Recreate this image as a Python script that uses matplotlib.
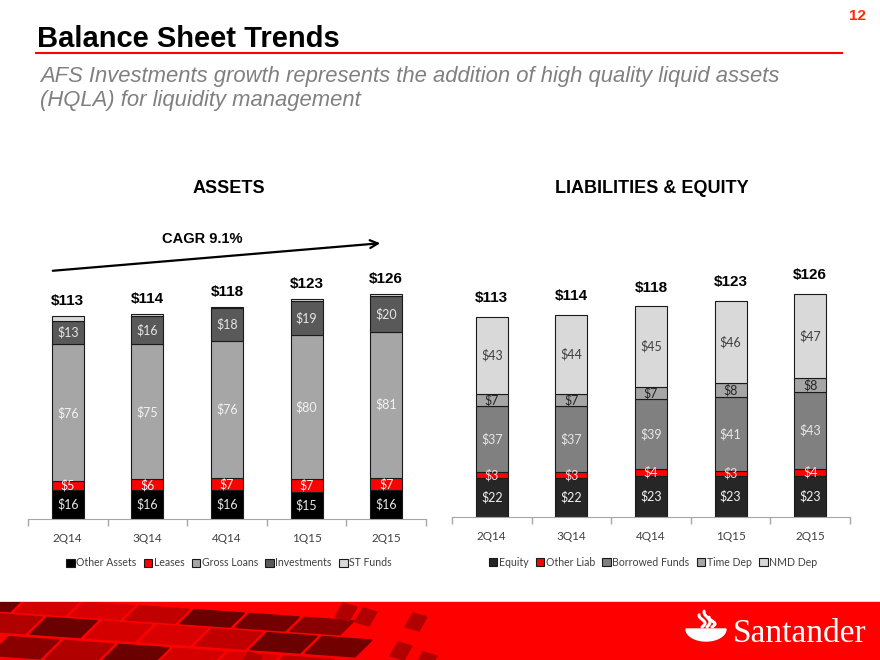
import matplotlib.pyplot as plt
import numpy as np
from matplotlib.patches import Rectangle, Polygon, FancyArrowPatch
from matplotlib.lines import Line2D

quarters = ['2Q14', '3Q14', '4Q14', '1Q15', '2Q15']

# assets ($B)
other_assets = [16, 16, 16, 15, 16]
leases = [5, 6, 7, 7, 7]
gross_loans = [76, 75, 76, 80, 81]
investments = [13, 16, 18, 19, 20]
st_funds = [3, 1, 1, 1, 1]
asset_totals = [113, 114, 118, 123, 126]
asset_names = ['Other Assets', 'Leases', 'Gross Loans', 'Investments', 'ST Funds']

# liabilities & equity ($B)
equity = [22, 22, 23, 23, 23]
other_liab = [3, 3, 4, 3, 4]
borrowed_funds = [37, 37, 39, 41, 43]
time_dep = [7, 7, 7, 8, 8]
nmd_dep = [43, 44, 45, 46, 47]
liab_totals = [113, 114, 118, 123, 126]
liab_names = ['Equity', 'Other Liab', 'Borrowed Funds', 'Time Dep', 'NMD Dep']

W, H = 880, 660
SANS = ['Liberation Sans', 'DejaVu Sans']
BODY = ['Lato', 'DejaVu Sans']


def px(x, y):
    return x / W, 1 - y / H


def draw_stack(ax, layers, names, colors, label_colors, totals, total_gap):
    x = np.arange(len(quarters))
    bottom = np.zeros(len(quarters))
    for vals, name, col, lc in zip(layers, names, colors, label_colors):
        vals = np.array(vals, dtype=float)
        ax.bar(x, vals, width=0.4, bottom=bottom, color=col, edgecolor='#1a1a1a',
               linewidth=0.8, label=name, zorder=2)
        if lc is not None:
            for xi, b, v in zip(x, bottom, vals):
                ax.text(xi, b + v / 2, '$%d' % v, ha='center', va='center',
                        color=lc, fontsize=9, family=BODY, zorder=3)
        bottom += vals
    for xi, top, t in zip(x, bottom, totals):
        ax.text(xi, top + total_gap, '$%d' % t, ha='center', va='center',
                fontsize=11, fontweight='bold', family=SANS)
    ax.set_xlim(-0.5, len(quarters) - 0.5)
    ax.set_ylim(0, 140)
    ax.set_xticks(x)
    ax.set_xticklabels(quarters, family=BODY, fontsize=8.5, color='#404040')
    ax.set_xticks(np.arange(len(quarters) + 1) - 0.5, minor=True)
    ax.tick_params(axis='x', which='major', length=0, pad=10)
    ax.tick_params(axis='x', which='minor', length=5, color='#A6A6A6', width=1)
    ax.set_yticks([])
    for s in ['left', 'top', 'right']:
        ax.spines[s].set_visible(False)
    ax.spines['bottom'].set_color('#A6A6A6')
    ax.patch.set_visible(False)


def add_legend(ax, cx, cy):
    ax.legend(loc='center', bbox_to_anchor=px(cx, cy), bbox_transform=fig.transFigure,
              ncol=5, frameon=False, handlelength=0.8, handleheight=0.8, handletextpad=0.15,
              columnspacing=0.7, prop={'family': BODY, 'size': 7.6}, labelcolor='#404040')


fig = plt.figure(figsize=(8.8, 6.6), dpi=100)
fig.patch.set_facecolor('white')

ax1 = fig.add_axes([28 / W, 141 / H, 398 / W, 252 / H])
draw_stack(ax1, [other_assets, leases, gross_loans, investments, st_funds], asset_names,
           ['#000000', '#FF0000', '#A6A6A6', '#595959', '#D9D9D9'],
           ['#E6E6E6', '#F2F2F2', '#F2F2F2', '#E6E6E6', None],
           asset_totals, 8.3)
add_legend(ax1, 229, 563)

ax2 = fig.add_axes([452 / W, 143 / H, 398 / W, 250 / H])
draw_stack(ax2, [equity, other_liab, borrowed_funds, time_dep, nmd_dep], liab_names,
           ['#262626', '#FF0000', '#808080', '#A6A6A6', '#D9D9D9'],
           ['#F2F2F2', '#F2D9D9', '#E6E6E6', '#262626', '#404040'],
           liab_totals, 10.5)
add_legend(ax2, 653, 562)

# headers
fig.text(*px(229, 188), 'ASSETS', ha='center', va='center', fontsize=13,
         fontweight='bold', family=SANS)
fig.text(*px(652, 188), 'LIABILITIES & EQUITY', ha='center', va='center', fontsize=13,
         fontweight='bold', family=SANS)
fig.text(*px(202, 239), 'CAGR 9.1%', ha='center', va='center', fontsize=10.5,
         fontweight='bold', family=SANS)
fig.add_artist(FancyArrowPatch(px(50, 271), px(383, 243), transform=fig.transFigure,
                               arrowstyle='->', mutation_scale=14, lw=1.6, color='black'))

# slide title
fig.text(*px(37, 47), 'Balance Sheet Trends', ha='left', va='baseline', fontsize=21,
         fontweight='bold', family=SANS)
fig.add_artist(Line2D([36 / W, 842 / W], [1 - 53 / H] * 2, color='#FF0000', lw=1.5))
fig.text(*px(40, 82), 'AFS Investments growth represents the addition of high quality liquid assets',
         ha='left', va='baseline', fontsize=15.8, style='italic', color='#808080', family=SANS)
fig.text(*px(40, 106), '(HQLA) for liquidity management',
         ha='left', va='baseline', fontsize=15.8, style='italic', color='#808080', family=SANS)
fig.text(*px(857, 16), '12', ha='center', va='center', fontsize=11, fontweight='bold',
         color='#FF2A00', family=SANS)

# footer band
band = Rectangle(px(0, 660), 1, 58 / H, transform=fig.transFigure, color='#FF0000', zorder=1)
fig.add_artist(band)
shades = ['#6A0000', '#C00000', '#8A0000', '#D40000', '#6A0000', '#B00000', '#D80000', '#720000']
rows = [(596, 15), (614, 18), (636, 20), (659, 22)]
k = 0
for r, (y0, h) in enumerate(rows):
    c = -40 + r * 15
    while c < 330 - r * 20:
        dx = h * 0.95
        yt = lambda xx: y0 + 0.07 * xx
        pts = [px(c, yt(c) + h), px(c + 50, yt(c + 50) + h),
               px(c + 50 + dx, yt(c + 50 + dx)), px(c + dx, yt(c + dx))]
        tile = Polygon(pts, closed=True, transform=fig.transFigure,
                       color=shades[k % len(shades)], zorder=2)
        tile.set_clip_path(band)
        fig.add_artist(tile)
        k += 3
        c += 55
for (x0, y0) in [(335, 603), (355, 608), (405, 613), (390, 642), (415, 652), (240, 652)]:
    pts = [px(x0, y0 + 14), px(x0 + 14, y0 + 18), px(x0 + 22, y0 + 4), px(x0 + 8, y0)]
    tile = Polygon(pts, closed=True, transform=fig.transFigure, color='#B00000', zorder=2)
    tile.set_clip_path(band)
    fig.add_artist(tile)

# logo
t = np.linspace(0, np.pi, 40)
bowl = [px(706 + 20 * np.cos(a), 629 + 12 * np.sin(a)) for a in t]
fig.add_artist(Polygon(bowl, closed=True, transform=fig.transFigure, color='white', zorder=3))
s = np.linspace(0, 1, 30)
for off in [-4, 1, 6]:
    xs = [(706 + off + 3 * np.sin(v * 5)) / W for v in s]
    ys = [1 - (627 - v * (17 - 1.2 * abs(off))) / H for v in s]
    fig.add_artist(Line2D(xs, ys, color='white', lw=2.2, zorder=3,
                          solid_capstyle='round'))
fig.text(*px(733, 642), 'Santander', ha='left', va='baseline', fontsize=24, color='white',
         family=['Liberation Serif', 'DejaVu Serif'], zorder=4)

fig.savefig('out.png', dpi=100, facecolor='white')
